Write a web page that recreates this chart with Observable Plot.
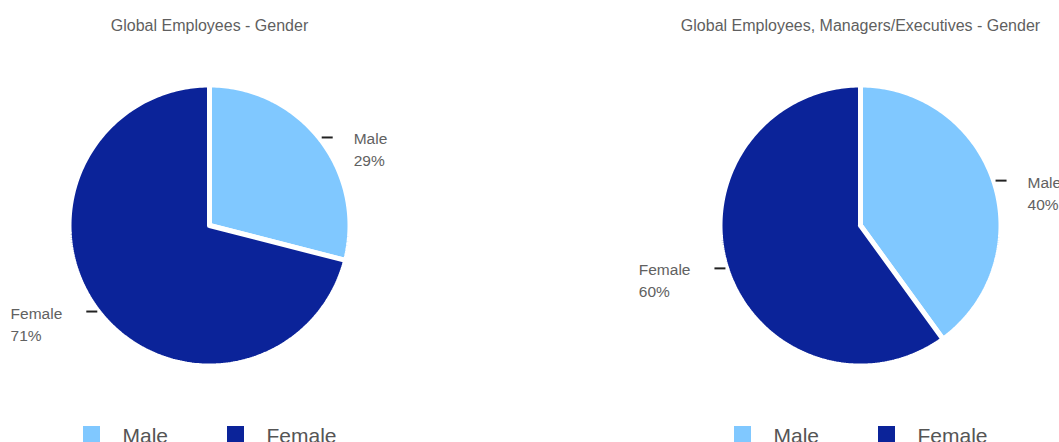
<!DOCTYPE html>
<html>
<head>
<meta charset="utf-8">
<script src="https://cdn.jsdelivr.net/npm/d3@7"></script>
<script src="https://cdn.jsdelivr.net/npm/@observablehq/plot@0.6"></script>
<style>
  html, body { margin: 0; padding: 0; background: #fff; overflow: hidden; }
  #chart { width: 1059px; height: 442px; }
</style>
</head>
<body>
<div id="chart"></div>
<script>
// ---- data ----
const categories = ["Male", "Female"];
const colors = ["#80c8ff", "#0b2399"];
const titles = ["Global Employees - Gender", "Global Employees, Managers/Executives - Gender"];
const employeesPct = [29, 71];
const managersPct = [40, 60];

// ---- layout ----
const W = 1059, H = 442;
const FONT = "'Liberation Sans', Arial, Helvetica, sans-serif";
const R = 140.5;          // pie radius (white stroke trims ~2.5px)
const charts = [
  {title: titles[0], values: employeesPct, cx: 209, cy: 225},
  {title: titles[1], values: managersPct, cx: 860, cy: 225}
];

const ctx = document.createElement("canvas").getContext("2d");
function measure(text, size) {
  ctx.font = `${size}px ${FONT}`;
  return ctx.measureText(text).width;
}

const slicePts = [], leaders = [], labelRows = [], titleRows = [], legendSq = [], legendTxt = [];
charts.forEach((c, ci) => {
  const arcs = d3.pie().sort(null).value(d => d)(c.values);
  arcs.forEach((a, i) => {
    const key = ci + "-" + i;
    const cat = categories[i];
    slicePts.push({key, cat, x: c.cx, y: c.cy});
    const n = Math.max(2, Math.ceil((a.endAngle - a.startAngle) / (Math.PI / 180)));
    for (let k = 0; k <= n; k++) {
      const t = a.startAngle + (a.endAngle - a.startAngle) * k / n;
      slicePts.push({key, cat, x: c.cx + R * Math.sin(t), y: c.cy - R * Math.cos(t)});
    }
    slicePts.push({key, cat, x: c.cx, y: c.cy});
    // leader + label
    const mid = (a.startAngle + a.endAngle) / 2;
    const side = Math.sin(mid) >= 0 ? 1 : -1;
    const px = c.cx + 142 * Math.sin(mid), py = c.cy - 142 * Math.cos(mid) - 1;
    const ex = px + side * 11;
    leaders.push({x1: px, x2: ex, y: py});
    const pct = c.values[i] + "%";
    let lx;
    if (side > 0) lx = ex + 21;
    else lx = ex - 24 - Math.max(measure(cat, 15.5), measure(pct, 15.5));
    labelRows.push({x: lx, y: py + 2, text: cat});
    labelRows.push({x: lx, y: py + 24, text: pct});
  });
  titleRows.push({x: c.cx, y: 30, text: c.title});
  categories.forEach((cat, i) => {
    const x0 = c.cx - 126 + i * 144;
    legendSq.push({x1: x0, x2: x0 + 17, y1: 426, y2: 443, cat});
    legendTxt.push({x: x0 + 39, y: 442, text: cat});
  });
});

const plot = Plot.plot({
  width: W, height: H,
  margin: 0,
  style: {fontFamily: FONT, background: "#fff"},
  x: {domain: [0, W], range: [0, W], axis: null},
  y: {domain: [0, H], range: [0, H], axis: null},
  color: {domain: categories, range: colors},
  marks: [
    Plot.line(slicePts, {x: "x", y: "y", z: "key", fill: "cat", stroke: "white", strokeWidth: 5, strokeLinejoin: "miter", curve: "linear"}),
    Plot.link(leaders, {x1: "x1", x2: "x2", y1: "y", y2: "y", stroke: "#222", strokeWidth: 2}),
    Plot.text(labelRows, {x: "x", y: "y", text: "text", textAnchor: "start", lineAnchor: "middle", fontSize: 15.5, fill: "#616161"}),
    Plot.text(titleRows, {x: "x", y: "y", text: "text", textAnchor: "middle", lineAnchor: "bottom", fontSize: 16, fill: "#5f5f5f"}),
    Plot.rect(legendSq, {x1: "x1", x2: "x2", y1: "y1", y2: "y2", fill: "cat"}),
    Plot.text(legendTxt, {x: "x", y: "y", text: "text", textAnchor: "start", lineAnchor: "bottom", fontSize: 21, fill: "#555"})
  ]
});
document.getElementById("chart").appendChild(plot);
</script>
</body>
</html>
